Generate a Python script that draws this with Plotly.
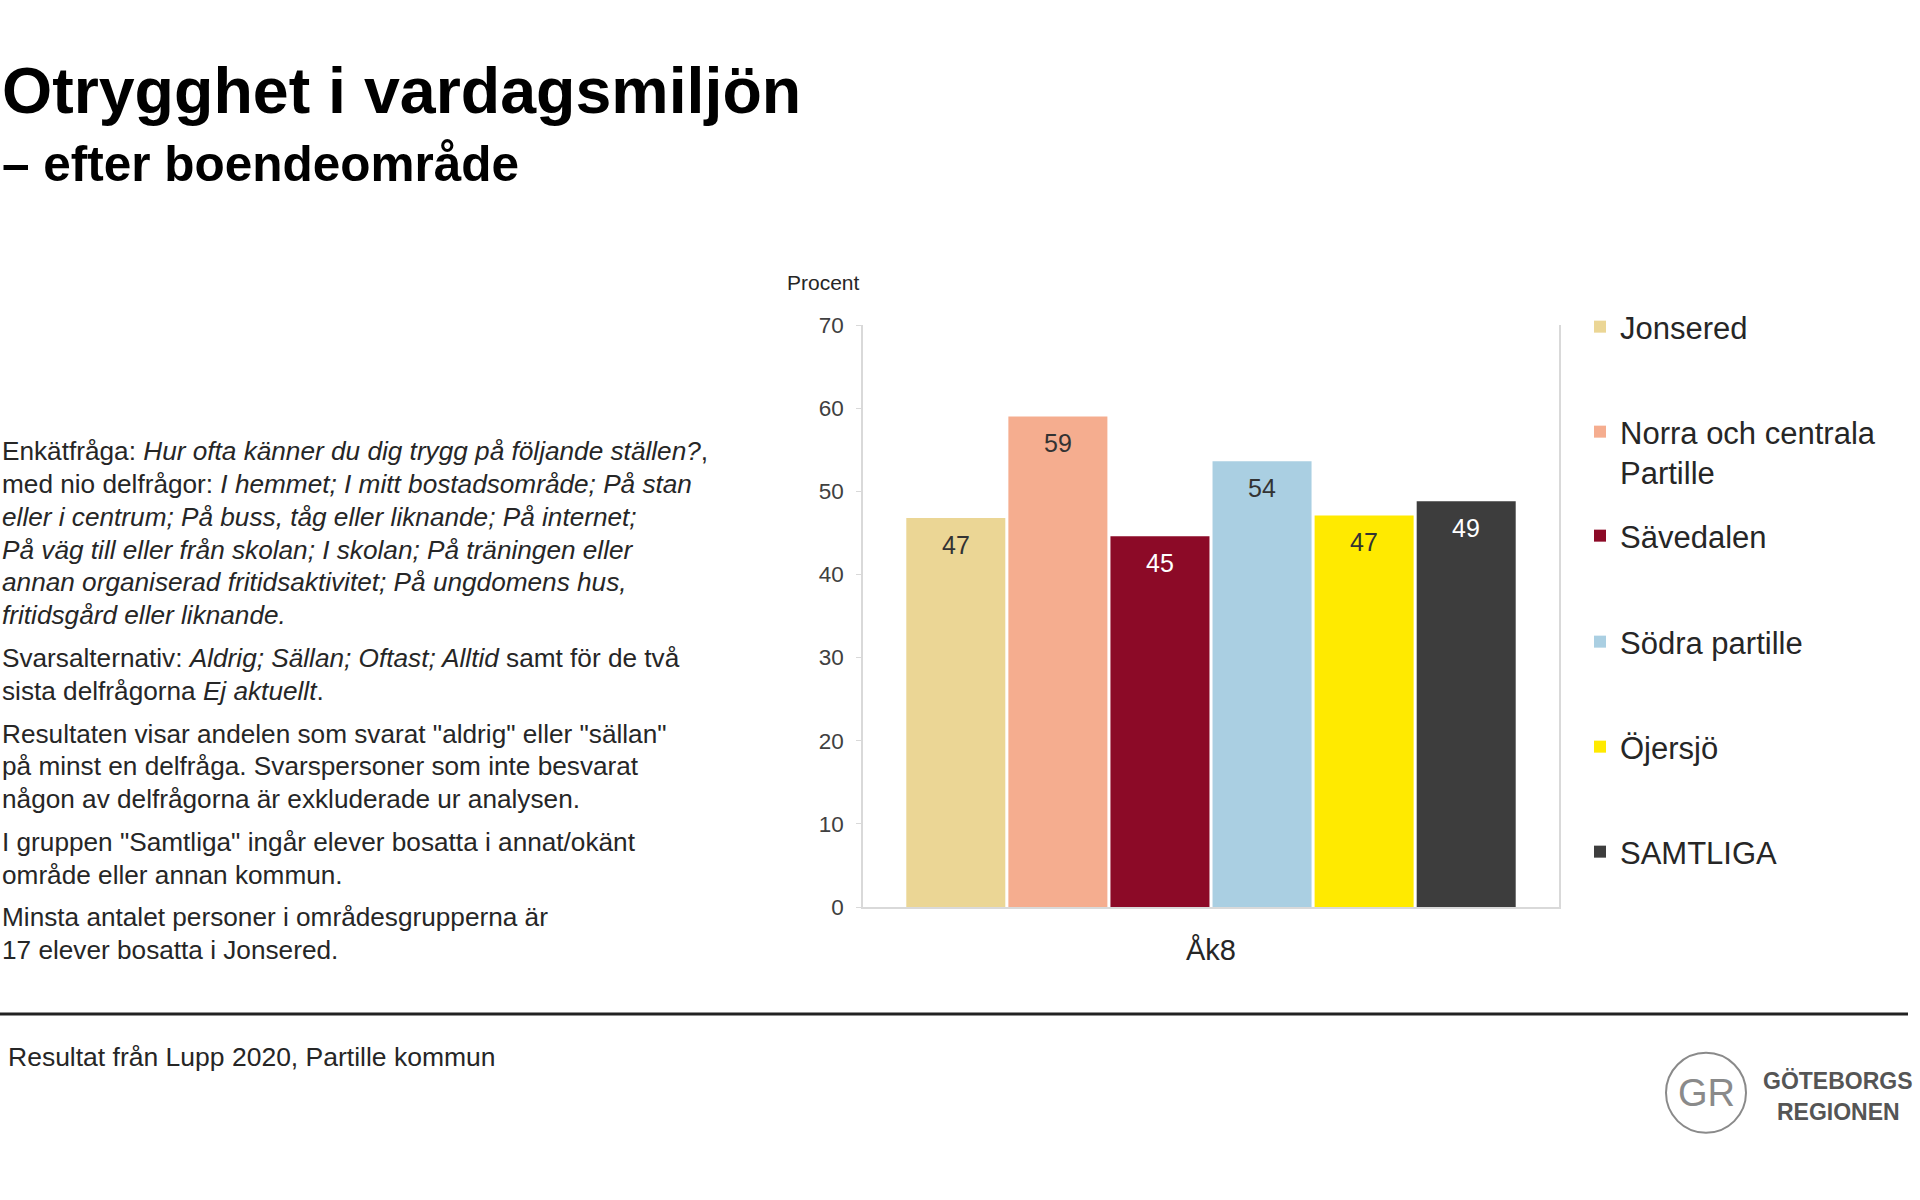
import plotly.graph_objects as go

W, H = 1920, 1200
ML, MR, MT, MB = 863, 361, 324.5, 293
PW = W - ML - MR
PH = H - MT - MB


def px(x):
    return (x - ML) / PW


def py(y):
    return 1 - (y - MT) / PH


# ---------------- data ----------------
category = ["Åk8"]
areas = ["Jonsered", "Norra och centrala<br>Partille", "Sävedalen",
         "Södra partille", "Öjersjö", "SAMTLIGA"]
values = [46.8, 59.0, 44.6, 53.6, 47.1, 48.8]
colors = ["#EBD695", "#F5AD8F", "#8C0A27", "#AACFE2", "#FFEA00", "#3D3D3D"]
label_colors = ["#333333", "#333333", "#FFFFFF", "#333333", "#333333", "#FFFFFF"]
y_ticks = [0, 10, 20, 30, 40, 50, 60, 70]

title = "Otrygghet i vardagsmiljön"
subtitle = "– efter boendeområde"
paragraphs = [
    ["Enkätfråga: <i>Hur ofta känner du dig trygg på följande ställen?</i>,",
     "med nio delfrågor: <i>I hemmet; I mitt bostadsområde; På stan</i>",
     "<i>eller i centrum; På buss, tåg eller liknande; På internet;</i>",
     "<i>På väg till eller från skolan; I skolan; På träningen eller</i>",
     "<i>annan organiserad fritidsaktivitet; På ungdomens hus,</i>",
     "<i>fritidsgård eller liknande.</i>"],
    ["Svarsalternativ: <i>Aldrig; Sällan; Oftast; Alltid</i> samt för de två",
     "sista delfrågorna <i>Ej aktuellt</i>."],
    ["Resultaten visar andelen som svarat \"aldrig\" eller \"sällan\"",
     "på minst en delfråga. Svarspersoner som inte besvarat",
     "någon av delfrågorna är exkluderade ur analysen."],
    ["I gruppen \"Samtliga\" ingår elever bosatta i annat/okänt",
     "område eller annan kommun."],
    ["Minsta antalet personer i områdesgrupperna är",
     "17 elever bosatta i Jonsered."],
]
footer = "Resultat från Lupp 2020, Partille kommun"

# ---------------- style ----------------
BODY = "Liberation Sans, Arial, sans-serif"
NARROW = "Liberation Sans Narrow, Arial Narrow, Liberation Sans, sans-serif"
TXT = "#262626"
BARGAP = 0.12
GROUPGAP = 0.03

fig = go.Figure()
legend_ids = ["legend"] + [f"legend{i}" for i in range(2, len(areas) + 1)]
for i, name in enumerate(areas):
    fig.add_trace(go.Bar(
        x=category, y=[values[i]], name=name,
        marker=dict(color=colors[i], line=dict(width=0)),
        legend=legend_ids[i], hoverinfo="skip",
    ))

# data labels placed from the bar geometry of the grouped layout
n = len(areas)
slot = (1 - BARGAP) / n
annotations = []
for i, v in enumerate(values):
    xc = -(1 - BARGAP) / 2 + slot * (i + 0.5)
    annotations.append(dict(
        x=xc, y=v, xref="x", yref="y", text=f"{v:.0f}", showarrow=False,
        yanchor="middle", yshift=-27,
        font=dict(family=BODY, size=25, color=label_colors[i]),
    ))

# titles
annotations.append(dict(x=px(0), y=py(90), xref="paper", yref="paper", text=f"<b>{title}</b>",
                        showarrow=False, xanchor="left", yanchor="middle",
                        font=dict(family=NARROW, size=64.5, color="#000000")))
annotations.append(dict(x=px(0), y=py(163), xref="paper", yref="paper", text=f"<b>{subtitle}</b>",
                        showarrow=False, xanchor="left", yanchor="middle",
                        font=dict(family=NARROW, size=49.5, color="#000000")))

# left text block
yy = 451
for p in paragraphs:
    for line in p:
        annotations.append(dict(x=px(0), y=py(yy), xref="paper", yref="paper", text=line,
                                showarrow=False, xanchor="left", yanchor="middle",
                                font=dict(family=BODY, size=26.2, color=TXT)))
        yy += 32.8
    yy += 10

# axis title
annotations.append(dict(x=px(823), y=py(282), xref="paper", yref="paper", text="Procent",
                        showarrow=False, xanchor="center", yanchor="middle",
                        font=dict(family=BODY, size=21, color=TXT)))
# footer
annotations.append(dict(x=px(6), y=py(1057), xref="paper", yref="paper", text=footer,
                        showarrow=False, xanchor="left", yanchor="middle",
                        font=dict(family=BODY, size=26.5, color=TXT)))
# logo
annotations.append(dict(x=px(1706), y=py(1093), xref="paper", yref="paper", text="GR",
                        showarrow=False, xanchor="center", yanchor="middle",
                        font=dict(family=BODY, size=38, color="#8a8a8a")))
annotations.append(dict(x=px(1838), y=py(1081), xref="paper", yref="paper", text="<b>GÖTEBORGS</b>",
                        showarrow=False, xanchor="center", yanchor="middle",
                        font=dict(family=NARROW, size=23, color="#555555")))
annotations.append(dict(x=px(1838), y=py(1112), xref="paper", yref="paper", text="<b>REGIONEN</b>",
                        showarrow=False, xanchor="center", yanchor="middle",
                        font=dict(family=NARROW, size=23, color="#555555")))

shapes = [
    dict(type="line", xref="paper", yref="paper", x0=px(0), x1=px(1908), y0=py(1014), y1=py(1014),
         line=dict(color="#222222", width=3)),
    dict(type="circle", xref="paper", yref="paper", x0=px(1666), x1=px(1746), y0=py(1053), y1=py(1133),
         line=dict(color="#8a8a8a", width=2)),
]

# legends: one per series, stacked like the reference
legend_centres = [327, 452, 536, 642, 747, 852]
layout_legends = {}
for i, lid in enumerate(legend_ids):
    layout_legends[lid] = dict(
        xref="container", yref="container", x=1580 / W, y=1 - legend_centres[i] / H,
        xanchor="left", yanchor="middle", valign="top",
        bgcolor="rgba(0,0,0,0)", borderwidth=0,
        font=dict(family=BODY, size=31, color=TXT),
    )

fig.update_layout(
    width=W, height=H,
    margin=dict(l=ML, r=MR, t=MT, b=MB, pad=0),
    paper_bgcolor="white", plot_bgcolor="white",
    barmode="group", bargap=BARGAP, bargroupgap=GROUPGAP,
    showlegend=True,
    annotations=annotations, shapes=shapes,
    xaxis=dict(showline=True, linecolor="#d9d9d9", linewidth=1.5, ticks="",
               showgrid=False, zeroline=False, ticklabelstandoff=16,
               tickfont=dict(family=BODY, size=29, color=TXT)),
    yaxis=dict(range=[0, 70], tickvals=y_ticks, showline=True, mirror=True,
               linecolor="#d9d9d9", linewidth=1.5, ticks="outside", ticklen=5,
               tickcolor="#d9d9d9", showgrid=False, zeroline=False,
               ticklabelstandoff=8,
               tickfont=dict(family=BODY, size=22.5, color="#404040")),
    **layout_legends,
)

fig.write_html("out.html", config={"displayModeBar": False})
